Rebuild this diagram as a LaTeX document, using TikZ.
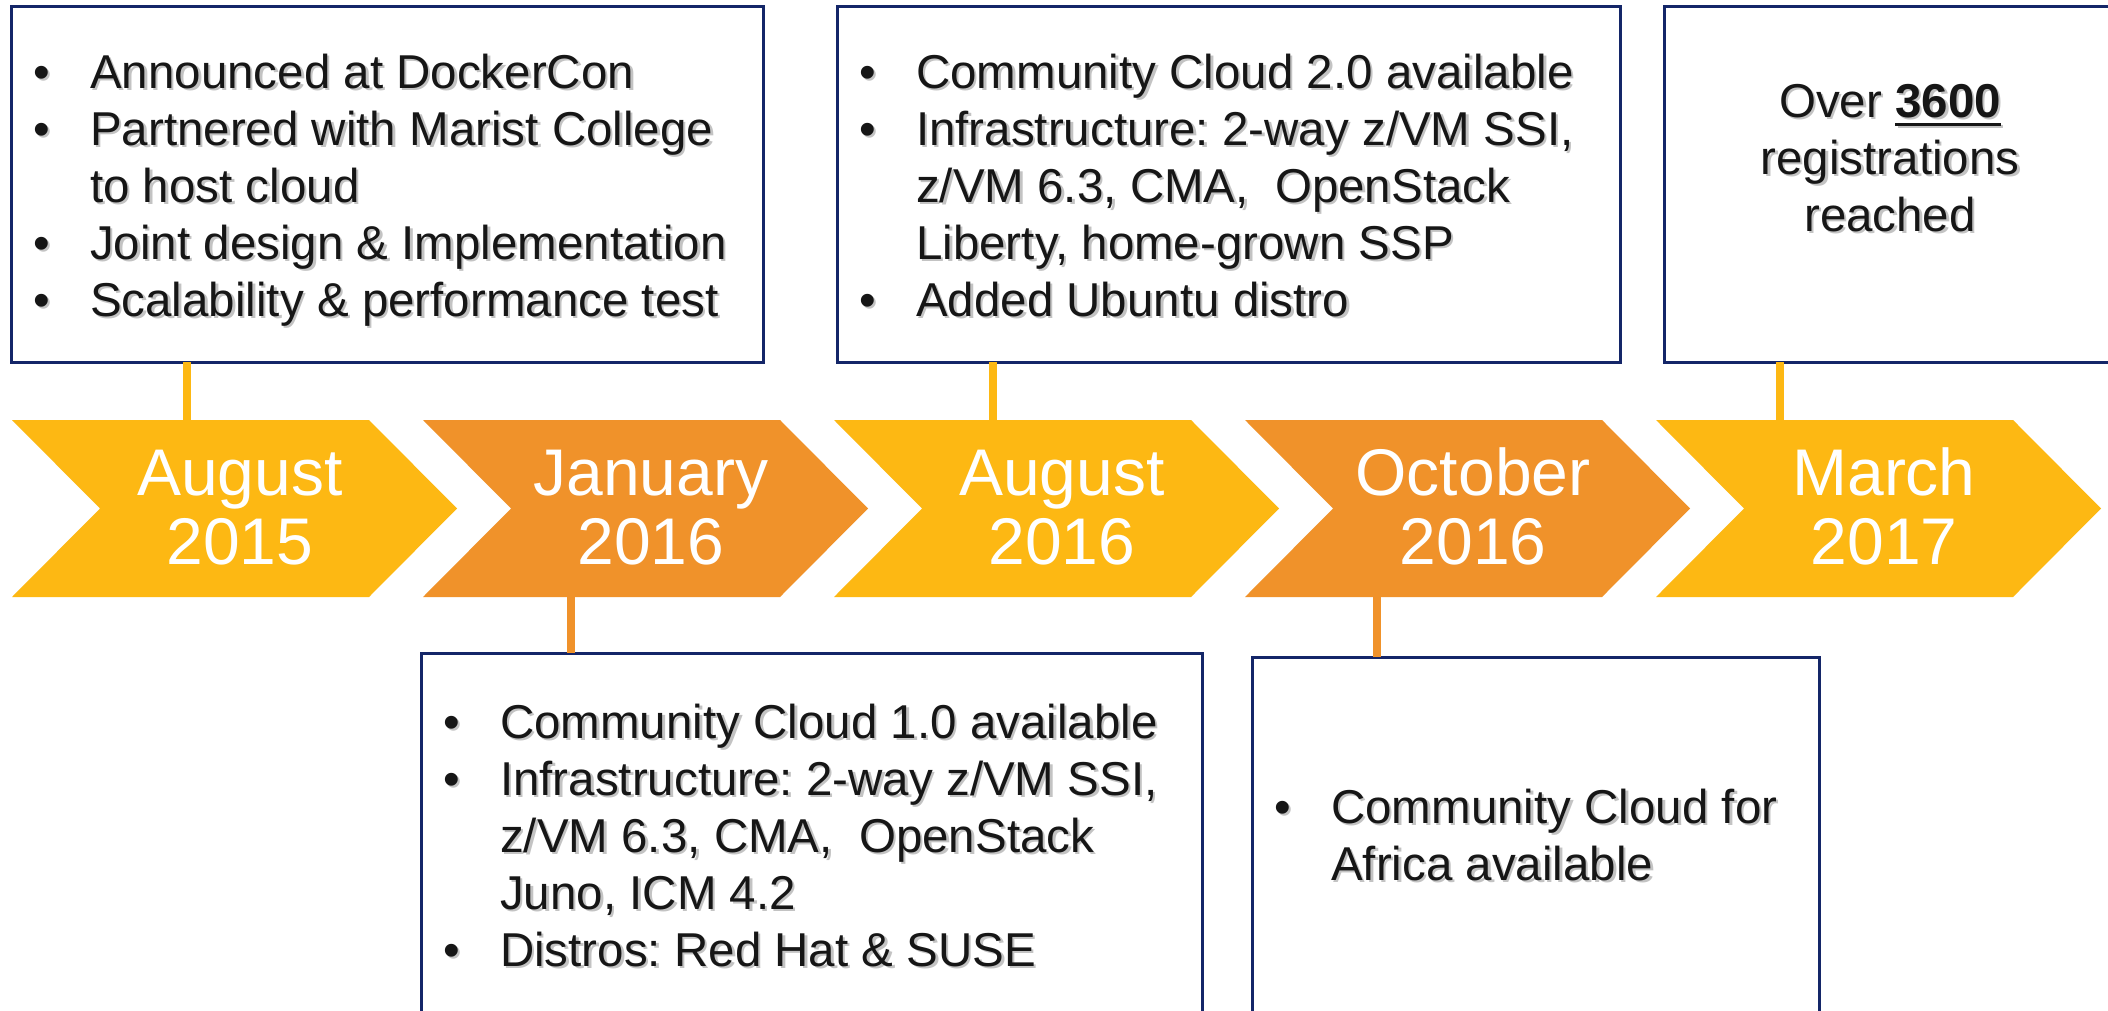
\documentclass[tikz,border=0pt]{standalone}
\usepackage{fontspec}
\setmainfont{Liberation Sans}
\frenchspacing
\definecolor{yel}{RGB}{253,184,19}
\definecolor{org}{RGB}{240,146,42}
\definecolor{navy}{RGB}{20,38,104}
\definecolor{shadowgray}{RGB}{195,195,195}
\definecolor{ink}{RGB}{22,22,22}
\newcommand\bi{\makebox[57pt][l]{\textbullet}}
\newcommand\ind{\hspace*{57pt}}
\newcommand\shd[1]{\leavevmode\rlap{\kern2.5pt\raisebox{-2.5pt}{\textcolor{shadowgray}{#1}}}#1}
\newcommand\ulbox[1]{\setbox0\hbox{#1}\rlap{\rule[-9pt]{\wd0}{3.5pt}}\box0}
\begin{document}
\begin{tikzpicture}[x=1pt,y=-1pt,
  box/.style={draw=navy, line width=3pt, fill=white, rectangle, anchor=north west, inner sep=0pt, outer sep=0pt},
  txt/.style={align=left, anchor=base west, inner sep=0pt, text=ink, font=\fontsize{47.5}{57}\selectfont\frenchspacing},
  datelabel/.style={align=center, text=white, inner sep=0pt, anchor=base, font=\fontsize{66}{69}\selectfont},
  conny/.style={draw=yel, line width=8pt},
  conno/.style={draw=org, line width=8pt}]
\clip (0,0) rectangle (2108,1011);
\fill[white] (0,0) rectangle (2108,1011);
% chevrons
\foreach \i/\c in {0/yel,1/org,2/yel,3/org,4/yel} {
  \pgfmathsetmacro\L{12+411*\i}
  \fill[\c] (\L,420) -- ++(357,0) -- ++(88,88.5) -- ++(-88,88.5) -- ++(-357,0) -- ++(88,-88.5) -- cycle;
}
% anchor points on chevrons
\coordinate (t1) at (187,420);
\coordinate (t2) at (571,597);
\coordinate (t3) at (993,420);
\coordinate (t4) at (1377,597);
\coordinate (t5) at (1780,420);
% boxes
\node[box, minimum width=752pt, minimum height=355pt] (b1) at (11,7) {};
\node[box, minimum width=783pt, minimum height=355pt] (b3) at (837,7) {};
\node[box, minimum width=456pt, minimum height=355pt] (b5) at (1664,7) {};
\node[box, minimum width=781pt, minimum height=400pt] (b2) at (421,653) {};
\node[box, minimum width=567pt, minimum height=400pt] (b4) at (1252,657) {};
% connectors
\draw[conny] (b1.south -| t1) -- (t1);
\draw[conno] (t2) -- (b2.north -| t2);
\draw[conny] (b3.south -| t3) -- (t3);
\draw[conno] (t4) -- (b4.north -| t4);
\draw[conny] (b5.south -| t5) -- (t5);
% date labels (anchor = baseline of last line)
\node[datelabel] (m1) at (240,564) {August\\2015};
\node[datelabel] (m2) at (651,564) {January\\2016};
\node[datelabel] (m3) at (1062,564) {August\\2016};
\node[datelabel] (m4) at (1473,564) {October\\2016};
\node[datelabel] (m5) at (1884,564) {March\\2017};
% box texts (anchor = baseline of last line)
\node[txt] (x1) at (33,316) {\shd{\bi Announced at DockerCon}\\%
\shd{\bi Partnered with Marist College}\\%
\shd{\ind to host cloud}\\%
\shd{\bi Joint design \& Implementation}\\%
\shd{\bi Scalability \& performance test}};
\node[txt] (x3) at (859,316) {\shd{\bi Community Cloud 2.0 available}\\%
\shd{\bi Infrastructure: 2-way z/VM SSI,}\\%
\shd{\ind z/VM 6.3, CMA,~ OpenStack}\\%
\shd{\ind Liberty, home-grown SSP}\\%
\shd{\bi Added Ubuntu distro}};
\node[txt, align=center, anchor=base] (x5) at (1890,231) {\shd{Over \ulbox{\textbf{3600}}}\\%
\shd{registrations}\\%
\shd{reached}};
\node[txt] (x2) at (443,966) {\shd{\bi Community Cloud 1.0 available}\\%
\shd{\bi Infrastructure: 2-way z/VM SSI,}\\%
\shd{\ind z/VM 6.3, CMA,~ OpenStack}\\%
\shd{\ind Juno, ICM 4.2}\\%
\shd{\bi Distros: Red Hat \& SUSE}};
\node[txt] (x4) at (1274,880) {\shd{\bi Community Cloud for}\\%
\shd{\ind Africa available}};
\end{tikzpicture}
\end{document}
